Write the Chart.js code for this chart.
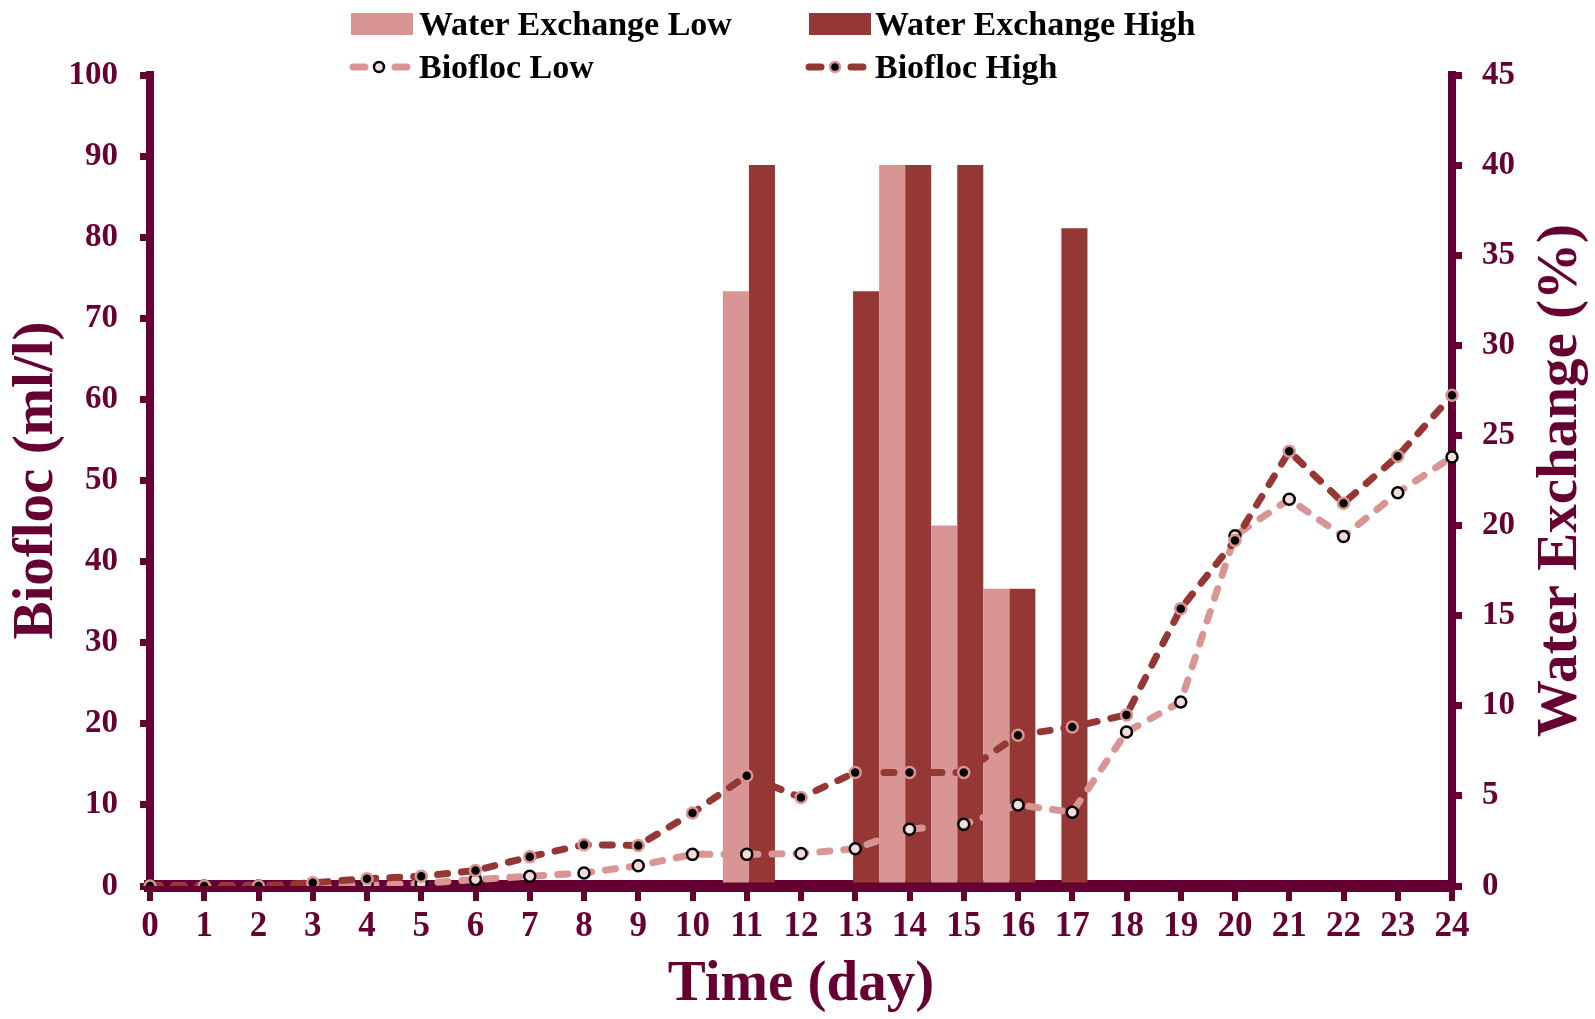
<!DOCTYPE html>
<html>
<head>
<meta charset="utf-8">
<script src="https://cdn.jsdelivr.net/npm/chart.js@4.4.1/dist/chart.umd.min.js"></script>
<style>
  html, body { margin: 0; padding: 0; background: #ffffff; }
  #wrap { position: relative; width: 1595px; height: 1019px; overflow: hidden; }
  canvas { position: absolute; left: 0; top: 0; }
  .lg { position: absolute; font: bold 34px "Liberation Serif", "Times New Roman", serif; color: #000; line-height: 34px; white-space: nowrap; }
  .sw { position: absolute; }
</style>
</head>
<body>
<div id="wrap">
  <canvas id="c" width="1595" height="1019"></canvas>
  <div class="sw" style="left:351px; top:13px; width:62px; height:22px; background:#D99594;"></div>
  <div class="lg" style="left:419px; top:7px;">Water Exchange Low</div>
  <div class="sw" style="left:809px; top:13px; width:62px; height:22px; background:#953735;"></div>
  <div class="lg" style="left:875px; top:7px;">Water Exchange High</div>
  <svg class="sw" style="left:349px; top:57px;" width="66" height="20">
    <line x1="4" y1="10" x2="62" y2="10" stroke="#D99594" stroke-width="7" stroke-dasharray="12 14 2 14" stroke-linecap="round"/>
    <circle cx="30" cy="10" r="5" fill="#F2DCDB" stroke="#000" stroke-width="2.4"/>
  </svg>
  <div class="lg" style="left:419px; top:50px;">Biofloc Low</div>
  <svg class="sw" style="left:805px; top:57px;" width="66" height="20">
    <line x1="4" y1="10" x2="62" y2="10" stroke="#953735" stroke-width="7" stroke-dasharray="12 14 2 14" stroke-linecap="round"/>
    <circle cx="30" cy="10" r="5" fill="#000" stroke="#D99594" stroke-width="2.4"/>
  </svg>
  <div class="lg" style="left:875px; top:50px;">Biofloc High</div>
</div>
<script>
// ---- data ----
const days = ['0','1','2','3','4','5','6','7','8','9','10','11','12','13','14','15','16','17','18','19','20','21','22','23','24'];
const waterExchangeLow  = [0,0,0,0,0,0,0,0,0,0,0,33,0,0,40,20,16.5,0,0,0,0,0,0,0,0];
const waterExchangeHigh = [0,0,0,0,0,0,0,0,0,0,0,40,0,33,40,40,16.5,36.5,0,0,0,0,0,0,0];
const bioflocLow  = [0,0,0,0,0.2,0.3,0.8,1.2,1.6,2.5,3.9,3.9,4.0,4.6,7.0,7.6,10.0,9.1,19.0,22.7,43.2,47.7,43.1,48.5,52.9];
const bioflocHigh = [0,0,0,0.4,0.9,1.2,1.9,3.6,5.1,5.0,9.0,13.6,10.9,14.0,14.0,14.0,18.6,19.6,21.1,34.2,42.6,53.6,47.2,53.0,60.5];
const leftTicks = { min: 0, max: 100, step: 10 };
const rightTicks = { min: 0, max: 45, step: 5 };

const MAROON = '#660033';
const LIGHT = '#D99594';
const DARK = '#953735';
const SERIF = '"Liberation Serif", "Times New Roman", serif';

const rightTitlePlugin = {
  id: 'rightTitle',
  afterDraw(chart) {
    const t = chart.options.scales.y1.title;
    const ctx = chart.ctx;
    ctx.save();
    ctx.translate(chart.width - 34, (chart.chartArea.top + chart.chartArea.bottom) / 2);
    ctx.rotate(-Math.PI / 2);
    ctx.font = 'bold 57px ' + SERIF;
    ctx.fillStyle = MAROON;
    ctx.textAlign = 'center';
    ctx.textBaseline = 'middle';
    ctx.fillText(t.text, 0, 0);
    ctx.restore();
  }
};

// With two index (x) scales, Chart.js 4.5 splits each category between the scales,
// so a categoryPercentage of 2 makes the bar pair fill one whole category.
const BAR_CAT = 2;

new Chart(document.getElementById('c'), {
  type: 'bar',
  data: {
    labels: days,
    datasets: [
      { type: 'line', label: 'Biofloc High', data: bioflocHigh, xAxisID: 'x', yAxisID: 'y', order: 0,
        borderColor: DARK, borderWidth: 7, borderDash: [10, 14], borderCapStyle: 'round', tension: 0,
        pointRadius: 5.5, pointBackgroundColor: '#000', pointBorderColor: LIGHT, pointBorderWidth: 2.5, fill: false },
      { type: 'line', label: 'Biofloc Low', data: bioflocLow, xAxisID: 'x', yAxisID: 'y', order: 1,
        borderColor: LIGHT, borderWidth: 7, borderDash: [10, 14], borderCapStyle: 'round', tension: 0,
        pointRadius: 5.5, pointBackgroundColor: '#F2DCDB', pointBorderColor: '#000', pointBorderWidth: 2.5, fill: false },
      { type: 'bar', label: 'Water Exchange Low', data: waterExchangeLow, xAxisID: 'xb', yAxisID: 'y1', order: 2,
        backgroundColor: LIGHT, borderWidth: 0, barPercentage: 1, categoryPercentage: BAR_CAT },
      { type: 'bar', label: 'Water Exchange High', data: waterExchangeHigh, xAxisID: 'xb', yAxisID: 'y1', order: 3,
        backgroundColor: DARK, borderWidth: 0, barPercentage: 1, categoryPercentage: BAR_CAT }
    ]
  },
  options: {
    responsive: false,
    devicePixelRatio: 1,
    animation: false,
    layout: { padding: { top: 75, left: 0, right: 0, bottom: 0 } },
    plugins: { legend: { display: false }, tooltip: { enabled: false } },
    scales: {
      x: {
        type: 'category',
        position: 'bottom',
        offset: false,
        grid: { offset: false, drawOnChartArea: false, color: MAROON, lineWidth: 6, tickLength: 15 },
        border: { display: true, color: MAROON, width: 12 },
        ticks: { color: MAROON, font: { family: SERIF, size: 35, weight: 'bold' }, padding: 5, autoSkip: false, maxRotation: 0 },
        title: { display: true, text: 'Time (day)', color: MAROON, font: { family: SERIF, size: 57, weight: 'bold' }, padding: 0 },
        afterFit(s) { s.height = 133; }
      },
      xb: {
        type: 'category',
        position: 'bottom',
        display: false,
        offset: true,
        grid: { offset: true, drawOnChartArea: false },
        ticks: { autoSkip: false }
      },
      y: {
        position: 'left',
        min: leftTicks.min, max: leftTicks.max,
        grid: { drawOnChartArea: false, color: MAROON, lineWidth: 7, tickLength: 10 },
        border: { display: true, color: MAROON, width: 8 },
        ticks: { stepSize: leftTicks.step, color: MAROON, font: { family: SERIF, size: 33, weight: 'bold' }, padding: 22 },
        title: { display: true, text: 'Biofloc (ml/l)', color: MAROON, font: { family: SERIF, size: 57, weight: 'bold' }, padding: 3 },
        afterFit(s) { s.width = 150; }
      },
      y1: {
        position: 'right',
        min: rightTicks.min, max: rightTicks.max,
        grid: { drawOnChartArea: false, color: MAROON, lineWidth: 7, tickLength: 10 },
        border: { display: true, color: MAROON, width: 8 },
        ticks: { stepSize: rightTicks.step, color: MAROON, font: { family: SERIF, size: 33, weight: 'bold' }, padding: 20 },
        title: { display: false, text: 'Water Exchange (%)' },
        afterFit(s) { s.width = 143; }
      }
    }
  },
  plugins: [rightTitlePlugin]
});
</script>
</body>
</html>
